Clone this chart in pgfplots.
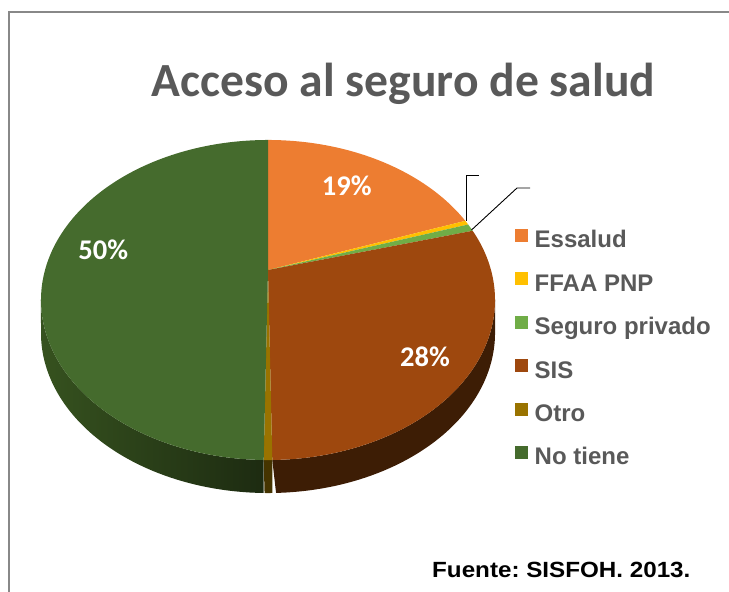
\documentclass[border=0pt]{standalone}
\usepackage{fontspec}
\setmainfont{Liberation Sans}
\newfontfamily\carlito{Carlito}
\newfontfamily\arialwide[FakeStretch=1.1]{Liberation Sans}
\usepackage{pgfplots}
\usepackage{pgfplotstable}
\pgfplotsset{compat=1.18}
\definecolor{cEss}{HTML}{ED7D31}
\definecolor{cFFA}{HTML}{FFC000}
\definecolor{cPri}{HTML}{70AD47}
\definecolor{cSIS}{HTML}{9E480E}
\definecolor{cOtr}{HTML}{997300}
\definecolor{cNot}{HTML}{456B2D}
\definecolor{wSIS}{HTML}{3D1D05}
\definecolor{wOtr}{HTML}{453400}
\definecolor{wNotL}{HTML}{36521F}
\definecolor{wNotR}{HTML}{1D2B11}
\definecolor{g59}{HTML}{595959}
\definecolor{framegray}{HTML}{888888}

\pgfplotstableread{
name value
Essalud 19.5
FFAA 0.45
Privado 0.75
SIS 29.05
Otro 0.5
NoTiene 49.75
}\piedata

\begin{document}
\frenchspacing
\begin{tikzpicture}
\pgfplotstablegetelem{0}{value}\of\piedata \pgfmathsetmacro{\vA}{\pgfplotsretval}
\pgfplotstablegetelem{1}{value}\of\piedata \pgfmathsetmacro{\vB}{\pgfplotsretval}
\pgfplotstablegetelem{2}{value}\of\piedata \pgfmathsetmacro{\vC}{\pgfplotsretval}
\pgfplotstablegetelem{3}{value}\of\piedata \pgfmathsetmacro{\vD}{\pgfplotsretval}
\pgfplotstablegetelem{4}{value}\of\piedata \pgfmathsetmacro{\vE}{\pgfplotsretval}
\pgfplotstablegetelem{5}{value}\of\piedata \pgfmathsetmacro{\vF}{\pgfplotsretval}
\pgfmathsetmacro{\tA}{90}
\pgfmathsetmacro{\tB}{\tA-3.6*\vA}
\pgfmathsetmacro{\tC}{\tB-3.6*\vB}
\pgfmathsetmacro{\tD}{\tC-3.6*\vC}
\pgfmathsetmacro{\tE}{\tD-3.6*\vD}
\pgfmathsetmacro{\tF}{\tE-3.6*\vE}
\pgfmathsetmacro{\tG}{\tF-3.6*\vF}
\pgfmathsetmacro{\wR}{min(\tD,-10.8)}
\pgfmathsetmacro{\wL}{max(\tG,-169.2)}
\begin{axis}[
  at={(0,0)}, anchor=south west,
  scale only axis, width=729pt, height=592pt,
  xmin=0, xmax=729, ymin=0, ymax=592,
  hide axis, clip=false,
  declare function={
    px(\s)=268+223*cos(\s)/(1+0.1875*sin(\s));
    py(\s)=322+154.4*sin(\s)/(1+0.1875*sin(\s));
  },
  legend style={at={(axis cs:515,363)}, anchor=north west, draw=none, fill=none,
    inner sep=0pt, outer sep=0pt, row sep=19.4pt,
    font=\fontsize{24}{26}\selectfont\bfseries, text=g59,
    nodes={text height=17pt, text depth=5pt, inner sep=0pt}},
  legend cell align=left,
  legend image code/.code={\fill[#1, draw=none] (0pt,0pt) rectangle (12.8pt,13pt); \path (19.5pt,0pt);},
]
% side walls
\addplot[forget plot, fill=wSIS, draw=none, domain=0:2, samples=201, variable=\t]
  ({px(\wR+(\tE-\wR)*(1-abs(1-\t)))}, {py(\wR+(\tE-\wR)*(1-abs(1-\t)))-33*(\t>1)}) -- cycle;
\addplot[forget plot, fill=wOtr, draw=none, domain=0:2, samples=21, variable=\t]
  ({px(\tE+(\tF-\tE)*(1-abs(1-\t)))}, {py(\tE+(\tF-\tE)*(1-abs(1-\t)))-33*(\t>1)}) -- cycle;
\addplot[forget plot, draw=none, left color=wNotL, right color=wNotR, domain=0:2, samples=201, variable=\t]
  ({px(\tF+(\wL-\tF)*(1-abs(1-\t)))}, {py(\tF+(\wL-\tF)*(1-abs(1-\t)))-33*(\t>1)}) -- cycle;
% top faces
\addplot[forget plot, fill=cEss, draw=none, domain=\tB:\tA, samples=60, variable=\t]
  ({px(\t)},{py(\t)}) -- (axis cs:268,322) -- cycle;
\addplot[forget plot, fill=cFFA, draw=none, domain=\tC:\tB, samples=5, variable=\t]
  ({px(\t)},{py(\t)}) -- (axis cs:268,322) -- cycle;
\addplot[forget plot, fill=cPri, draw=none, domain=\tD:\tC, samples=5, variable=\t]
  ({px(\t)},{py(\t)}) -- (axis cs:268,322) -- cycle;
\addplot[forget plot, fill=cSIS, draw=none, domain=\tE:\tD, samples=80, variable=\t]
  ({px(\t)},{py(\t)}) -- (axis cs:268,322) -- cycle;
\addplot[forget plot, fill=cOtr, draw=none, domain=\tF:\tE, samples=5, variable=\t]
  ({px(\t)},{py(\t)}) -- (axis cs:268,322) -- cycle;
\addplot[forget plot, fill=cNot, draw=none, domain=\tG:\tF, samples=120, variable=\t]
  ({px(\t)},{py(\t)}) -- (axis cs:268,322) -- cycle;
% leader lines
\addplot[forget plot, black, line width=0.9pt] coordinates {(466.5,371) (466.5,417) (479,417)};
\addplot[forget plot, black, line width=0.9pt] coordinates {(471.5,362) (517,404) (530,404)};
% legend
\addlegendimage{fill=cEss}\addlegendentry{Essalud}
\addlegendimage{fill=cFFA}\addlegendentry{FFAA PNP}
\addlegendimage{fill=cPri}\addlegendentry{Seguro privado}
\addlegendimage{fill=cSIS}\addlegendentry{SIS}
\addlegendimage{fill=cOtr}\addlegendentry{Otro}
\addlegendimage{fill=cNot}\addlegendentry{No tiene}
% labels
\node[anchor=base, inner sep=0pt, text=white, font=\carlito\bfseries\fontsize{28.5}{30}\selectfont] at (axis cs:346.7,396) {19\%};
\node[anchor=base, inner sep=0pt, text=white, font=\carlito\bfseries\fontsize{28.5}{30}\selectfont] at (axis cs:425,225) {28\%};
\node[anchor=base, inner sep=0pt, text=white, font=\carlito\bfseries\fontsize{28.5}{30}\selectfont] at (axis cs:103.3,332) {50\%};
\node[anchor=base, inner sep=0pt, text=g59, font=\carlito\bfseries\fontsize{47.6}{50}\selectfont] at (axis cs:403.5,495.3) {Acceso al seguro de salud};
\node[anchor=base west, inner sep=0pt, text=black, font=\arialwide\bfseries\fontsize{22}{24}\selectfont] at (axis cs:432,14.3) {Fuente: SISFOH. 2013.};
\end{axis}
\draw[framegray, line width=2pt] (8.5pt,0pt) -- (8.5pt,580pt) -- (729pt,580pt);
\pgfresetboundingbox
\path[use as bounding box] (0,0) rectangle (729pt,592pt);
\end{tikzpicture}
\end{document}
